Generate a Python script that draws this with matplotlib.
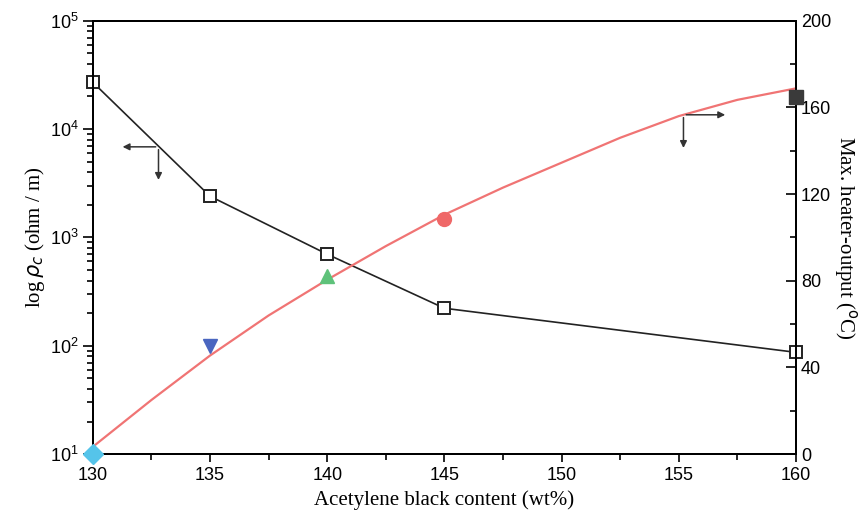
import matplotlib
matplotlib.use('Agg')
import matplotlib.pyplot as plt
from matplotlib.ticker import LogLocator, MultipleLocator, NullFormatter

# ---- data ----
content = [130, 135, 140, 145, 160]
resistivity = [2.7e4, 2.4e3, 700, 222, 87]

curve_x = [130, 132.5, 135, 137.5, 140, 142.5, 145, 147.5, 150, 152.5, 155, 157.5, 160]
curve_y = [3.4, 25, 45.5, 64, 80.5, 96, 110.5, 123, 134.5, 146, 156, 163.5, 168.8]

pt_x = [130, 135, 140, 145, 160]
pt_y = [0, 50, 82, 108.5, 165]
pt_marker = ['D', 'v', '^', 'o', 's']
pt_color = ['#55c4ea', '#4a66c0', '#5ec27a', '#ef6868', '#3a3a3a']

SERIF = 'Liberation Serif'
SANS = 'Liberation Sans'

fig = plt.figure(figsize=(8.68, 5.19), dpi=100)
ax = fig.add_axes([0.107, 0.125, 0.810, 0.835])
ax2 = ax.twinx()

# ---- left: resistivity ----
ax.plot(content, resistivity, color='#222222', lw=1.2, marker='s', ms=8,
        mfc='white', mec='#222222', mew=1.4, zorder=3, clip_on=False)
ax.set_yscale('log')
ax.set_ylim(10, 1e5)
ax.set_xlim(130, 160)
ax.xaxis.set_major_locator(MultipleLocator(5))
ax.xaxis.set_minor_locator(MultipleLocator(2.5))
ax.yaxis.set_major_locator(LogLocator(base=10, numticks=10))
ax.yaxis.set_minor_locator(LogLocator(base=10, subs=range(2, 10), numticks=10))
ax.yaxis.set_minor_formatter(NullFormatter())
ax.tick_params(axis='both', which='both', direction='out', labelsize=13, width=1.2)
ax.tick_params(axis='x', which='major', length=6)
ax.tick_params(axis='x', which='minor', length=4)
ax.tick_params(axis='y', which='major', length=7)
ax.tick_params(axis='y', which='minor', length=4)
ax.tick_params(top=False)
for lab in ax.get_xticklabels() + ax.get_yticklabels():
    lab.set_fontfamily(SANS)
ax.set_xlabel('Acetylene black content (wt%)', fontfamily=SERIF, fontsize=15, labelpad=4)
ax.set_ylabel(r'log$\,\rho_c$ (ohm / m)', fontfamily=SERIF, fontsize=15, labelpad=2)

# arrow pointing to left axis
kw = dict(arrowstyle='-|>', color='#333333', lw=1.1, mutation_scale=10)
ax.annotate('', xy=(131.15, 6.86e3), xytext=(132.8, 6.86e3), arrowprops=kw)
ax.annotate('', xy=(132.8, 3.2e3), xytext=(132.8, 6.86e3), arrowprops=kw)

# ---- right: heater output ----
ax2.plot(curve_x, curve_y, color='#f07474', lw=1.6, zorder=2)
for x, y, m, c in zip(pt_x, pt_y, pt_marker, pt_color):
    ax2.plot(x, y, marker=m, color=c, ms=10, ls='none', clip_on=False, zorder=4)
ax2.set_ylim(0, 200)
ax2.yaxis.set_major_locator(MultipleLocator(40))
ax2.yaxis.set_minor_locator(MultipleLocator(20))
ax2.tick_params(axis='y', which='major', direction='in', length=7, width=1.2, labelsize=13)
ax2.tick_params(axis='y', which='minor', direction='in', length=4, width=1.2)
for lab in ax2.get_yticklabels():
    lab.set_fontfamily(SANS)
ax2.set_ylabel(r'Max. heater-output ($^{\rm o}$C)', fontfamily=SERIF, fontsize=15,
               rotation=270, labelpad=20)

ax2.annotate('', xy=(157.1, 156.6), xytext=(155.2, 156.6), arrowprops=kw)
ax2.annotate('', xy=(155.2, 140), xytext=(155.2, 156.6), arrowprops=kw)

for a in (ax, ax2):
    for s in a.spines.values():
        s.set_linewidth(1.4)

fig.savefig('out.png', dpi=100)
